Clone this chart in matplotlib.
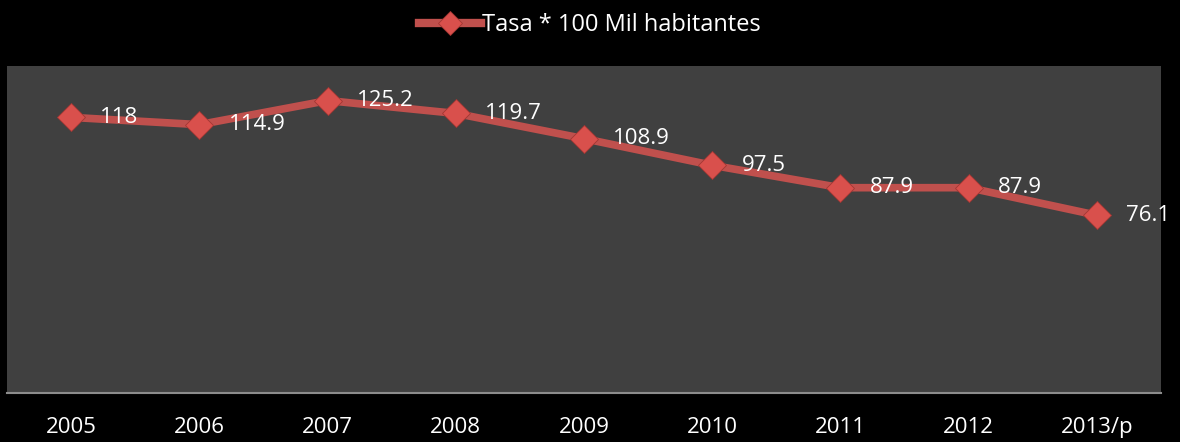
import matplotlib
matplotlib.use('Agg')
import matplotlib.pyplot as plt
from matplotlib.lines import Line2D

plt.rcParams['font.family'] = ['Open Sans', 'DejaVu Sans']

years = ['2005', '2006', '2007', '2008', '2009', '2010', '2011', '2012', '2013/p']
tasa = [118, 114.9, 125.2, 119.7, 108.9, 97.5, 87.9, 87.9, 76.1]
tasa_labels = ['118', '114.9', '125.2', '119.7', '108.9', '97.5', '87.9', '87.9', '76.1']
serie_name = 'Tasa * 100 Mil habitantes'

line_col = '#C0504D'
marker_face = '#D9504C'
marker_edge = '#A33633'

fig = plt.figure(figsize=(11.8, 4.42), dpi=100, facecolor='black')
ax = fig.add_axes([7 / 1180, 49 / 442, 1154 / 1180, 327 / 442])
ax.set_facecolor('#404040')

x = list(range(len(years)))
ax.plot(x, tasa, color=line_col, lw=5.5, solid_capstyle='round', zorder=2)
ax.plot(x, tasa, ls='none', marker='D', ms=14, mfc=marker_face, mec=marker_edge,
        mew=0.6, zorder=3)

for xi, v, lab in zip(x, tasa, tasa_labels):
    ax.annotate(lab, (xi, v), xytext=(21, 0), textcoords='offset points',
                color='white', fontsize=16, va='center', ha='left', zorder=4)

ax.set_xlim(-0.5, len(years) - 0.5)
ax.set_ylim(0, 140)
ax.set_xticks(x)
ax.set_xticklabels(years, color='white', fontsize=16)
ax.tick_params(axis='x', length=0, pad=17)
ax.set_yticks([])
for s in ['top', 'right', 'left']:
    ax.spines[s].set_visible(False)
ax.spines['bottom'].set_color('#8C8C8C')
ax.spines['bottom'].set_linewidth(1.5)

handle = Line2D([], [], color=line_col, lw=6, marker='D', ms=12,
                mfc=marker_face, mec=marker_edge, mew=0.6)
leg = fig.legend([handle], [serie_name], loc='center', bbox_to_anchor=(0.5, 1 - 25 / 442),
                 frameon=False, fontsize=17, handlelength=2.6, handletextpad=0.05)
for t in leg.get_texts():
    t.set_color('white')

fig.savefig('out.png', dpi=100, facecolor='black')
